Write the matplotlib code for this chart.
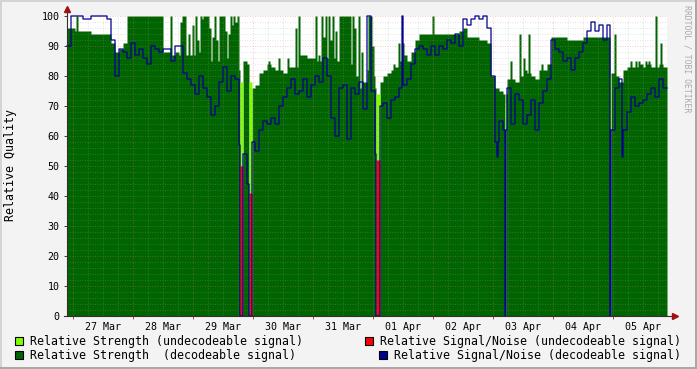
import numpy as np
import matplotlib.pyplot as plt
from matplotlib.patches import Rectangle

plt.rcParams['font.family'] = 'DejaVu Sans Mono'

# hours are counted from 27 Mar 00:00, one sample every 1.6 h from 26 Mar 21:36
START_HOUR = -2.4
SAMPLE_HOURS = 1.6

DAY_LABELS = ["27 Mar", "28 Mar", "29 Mar", "30 Mar", "31 Mar",
              "01 Apr", "02 Apr", "03 Apr", "04 Apr", "05 Apr"]

strength_decoded = [
    96, 96, 95, 95, 95, 95, 94, 94, 94, 94,
    94, 91, 88, 89, 91, 100, 100, 100, 100, 100,
    100, 100, 100, 100, 88, 88, 87, 88, 87, 87,
    87, 87, 87, 88, 87, 86, 85, 85, 86, 86,
    86, 86, 84, 82, 85, 84, 76, 77, 81, 82,
    84, 83, 82, 82, 81, 83, 83, 83, 87, 87,
    86, 86, 85, 85, 85, 86, 86, 85, 88, 85,
    85, 84, 80, 76, 78, 82, 80, 76, 78, 80,
    81, 82, 83, 85, 87, 85, 88, 92, 94, 94,
    94, 94, 94, 94, 94, 94, 94, 94, 95, 96,
    93, 93, 93, 92, 92, 91, 80, 76, 75, 74,
    79, 79, 78, 80, 82, 81, 80, 79, 82, 82,
    84, 93, 93, 93, 93, 92, 92, 92, 92, 93,
    93, 93, 93, 93, 93, 93, 81, 80, 78, 82,
    83, 83, 83, 84, 83, 84, 83, 83, 84, 83,
]

snr_decoded = [
    90, 100, 100, 100, 99, 99, 100, 100, 100, 100,
    99, 92, 80, 89, 88, 86, 91, 87, 89, 86,
    84, 90, 89, 88, 89, 89, 85, 90, 90, 81,
    79, 77, 74, 80, 76, 73, 67, 70, 78, 83,
    75, 80, 79, 57, 54, 44, 58, 55, 62, 65,
    64, 66, 64, 70, 73, 76, 79, 74, 75, 79,
    73, 77, 80, 78, 86, 80, 66, 60, 76, 77,
    59, 76, 74, 78, 69, 100, 75, 54, 70, 71,
    66, 72, 73, 76, 77, 79, 84, 89, 90, 89,
    87, 90, 87, 90, 89, 92, 91, 94, 90, 99,
    97, 99, 100, 99, 100, 96, 80, 58, 65, 62,
    76, 64, 74, 72, 64, 67, 72, 62, 71, 75,
    79, 92, 89, 88, 85, 86, 82, 86, 88, 91,
    95, 98, 95, 97, 92, 97, 62, 76, 79, 62,
    68, 73, 70, 71, 72, 74, 76, 73, 79, 76,
]

# short peaks of the decodeable strength (about 0.8 h each)
peak_hours = [1.2, 38.8, 42.8, 43.6, 44.4, 46.0, 47.6, 48.8, 49.6, 50.8,
              51.6, 52.0, 52.8, 53.6, 54.4, 55.6, 56.4, 57.2, 58.4, 59.2,
              59.6, 60.0, 60.8, 62.0, 62.8, 63.6, 64.0, 64.8, 65.6, 78.0,
              82.0, 85.6, 88.8, 90.0, 96.8, 98.0, 99.2, 100.0, 100.8, 102.0,
              102.8, 103.6, 104.8, 106.4, 107.2, 108.0, 108.8, 109.6, 110.4, 111.6,
              112.4, 114.0, 115.2, 118.0, 118.8, 119.6, 128.0, 130.0, 131.6, 143.6,
              174.8, 178.4, 180.0, 182.0, 187.2, 216.4, 222.8, 224.8, 226.0, 228.8,
              230.0, 232.8, 234.8]
peak_values = [100, 100, 98, 100, 100, 94, 97, 100, 92, 100,
               99, 100, 100, 100, 96, 93, 100, 92, 100, 100,
               100, 100, 95, 94, 100, 97, 100, 98, 100, 85,
               86, 86, 96, 100, 100, 87, 100, 93, 100, 100,
               92, 100, 95, 100, 100, 100, 100, 100, 100, 100,
               96, 100, 88, 100, 100, 90, 84, 91, 91, 100,
               85, 94, 86, 94, 84, 94, 85, 85, 85, 85,
               85, 100, 91]

# single samples of the signal/noise line
snr_glitch_hours = [131.6, 169.6, 219.6]
snr_glitch_values = [100, 53, 53]

# periods with undecodeable signal
undecoded_hours = [66.8, 70.4, 121.2, 172.8, 214.8]
undecoded_length = [1.2, 1.2, 1.6, 0.4, 0.4]
undecoded_strength = [78, 78, 74, 71, 80]
undecoded_snr = [50, 41, 52, 0, 0]

W, H = 697, 369

sub = 4
step = SAMPLE_HOURS / sub
green = np.repeat(np.array(strength_decoded, float), sub)
blue = np.repeat(np.array(snr_decoded, float), sub)
n = len(green)
light = np.zeros(n)
red = np.zeros(n)
t = START_HOUR + step * np.arange(n + 1)


def index_of(h):
    return int(round((h - START_HOUR) / step))


for h, v in zip(peak_hours, peak_values):
    k = index_of(h)
    green[k:k + 2] = np.maximum(green[k:k + 2], v)
for h, v in zip(snr_glitch_hours, snr_glitch_values):
    blue[index_of(h)] = v
for h, d, s, r in zip(undecoded_hours, undecoded_length, undecoded_strength, undecoded_snr):
    k = index_of(h)
    m = int(round(d / step))
    green[k:k + m] = 0
    blue[k:k + m] = 0
    light[k:k + m] = s
    red[k:k + m] = r


def ext(a):
    return np.append(a, a[-1])


fig = plt.figure(figsize=(W / 100, H / 100), dpi=100, facecolor='#F3F3F3')
ax = fig.add_axes([67 / W, 1 - 316 / H, 600 / W, 300 / H])
ax.set_facecolor('white')

ax.fill_between(t, 0, ext(green), step='post', color='#006400', lw=0, antialiased=False, zorder=1)
ax.fill_between(t, 0, ext(light), step='post', color='#80FF00', lw=0, antialiased=False, zorder=1.1)
ax.fill_between(t, 0, ext(red), step='post', color='#FF0000', lw=0, antialiased=False, zorder=1.2)
ax.step(t, ext(blue), where='post', color='#000090', lw=0.9, zorder=3, clip_on=False)

ax.set_xlim(t[0], t[-1])
ax.set_ylim(0, 100)

# grid on top, like rrdtool
for v in range(2, 101, 2):
    if v % 10 == 0:
        ax.axhline(v, color='#E07070', lw=0.6, ls=(0, (1, 2)), alpha=0.5, zorder=2.5)
    else:
        ax.axhline(v, color='#A0A0A0', lw=0.6, ls=(0, (1, 2)), alpha=0.4, zorder=2.5)
for h in np.arange(0, t[-1], 6):
    if h % 24 == 0:
        ax.axvline(h, color='#E07070', lw=0.6, ls=(0, (1, 2)), alpha=0.5, zorder=2.5)
    else:
        ax.axvline(h, color='#A0A0A0', lw=0.6, ls=(0, (1, 2)), alpha=0.4, zorder=2.5)

for s in ax.spines.values():
    s.set_visible(False)

ax.set_yticks(range(0, 101, 10))
ax.tick_params(axis='y', length=2.5, width=0.7, color='#404040', pad=3, labelsize=7.2)
ax.set_xticks(np.arange(0, t[-1], 24))
ax.set_xticklabels([])
ax.set_xticks(np.arange(12, t[-1], 24), minor=True)
ax.set_xticklabels(DAY_LABELS, minor=True)
ax.tick_params(axis='x', which='major', length=2.5, width=0.7, color='#C04040')
ax.tick_params(axis='x', which='minor', length=0, pad=4, labelsize=7.2)

# axis lines with arrows
ax.plot([0, 0], [0, 1 + 7 / 300], transform=ax.transAxes, color='#303030', lw=0.8,
        clip_on=False, zorder=5)
ax.plot([-3 / 600, 1 + 8 / 600], [0, 0], transform=ax.transAxes, color='#303030', lw=0.8,
        clip_on=False, zorder=5)
ax.plot(0, 1 + 7 / 300, marker='^', ms=4, color='#A01010', transform=ax.transAxes,
        clip_on=False, zorder=6)
ax.plot(1 + 8 / 600, 0, marker='>', ms=4, color='#A01010', transform=ax.transAxes,
        clip_on=False, zorder=6)

fig.text(11 / W, 1 - 165 / H, 'Relative Quality', rotation=90, ha='center', va='center',
         fontsize=8.4, color='black')
fig.text(687 / W, 1 - 5 / H, 'RRDTOOL / TOBI OETIKER', rotation=270, ha='center', va='top',
         fontsize=5.9, color='#AAAAAA')

legend = [
    (15, 30, 337, '#80FF00', 'Relative Strength (undecodeable signal)'),
    (365, 380, 337, '#FF0000', 'Relative Signal/Noise (undecodeable signal)'),
    (15, 30, 351, '#006400', 'Relative Strength  (decodeable signal)'),
    (379, 394, 351, '#000090', 'Relative Signal/Noise (decodeable signal)'),
]
for bx, tx, by, col, label in legend:
    fig.add_artist(Rectangle((bx / W, 1 - (by + 8) / H), 8 / W, 8 / H, transform=fig.transFigure,
                             facecolor=col, edgecolor='black', lw=0.8))
    fig.text(tx / W, 1 - (by + 4) / H, label, ha='left', va='center', fontsize=8.4)

# image frame
for x0, y0, w, h, col in [(0, 0, W, 2, '#D4D4D4'), (0, 0, 2, H, '#D4D4D4'),
                          (0, H - 2, W, 2, '#A8A8A8'), (W - 2, 0, 2, H, '#A8A8A8')]:
    fig.add_artist(Rectangle((x0 / W, 1 - (y0 + h) / H), w / W, h / H, transform=fig.transFigure,
                             facecolor=col, edgecolor='none'))

fig.savefig('out.png', dpi=100, facecolor=fig.get_facecolor())
